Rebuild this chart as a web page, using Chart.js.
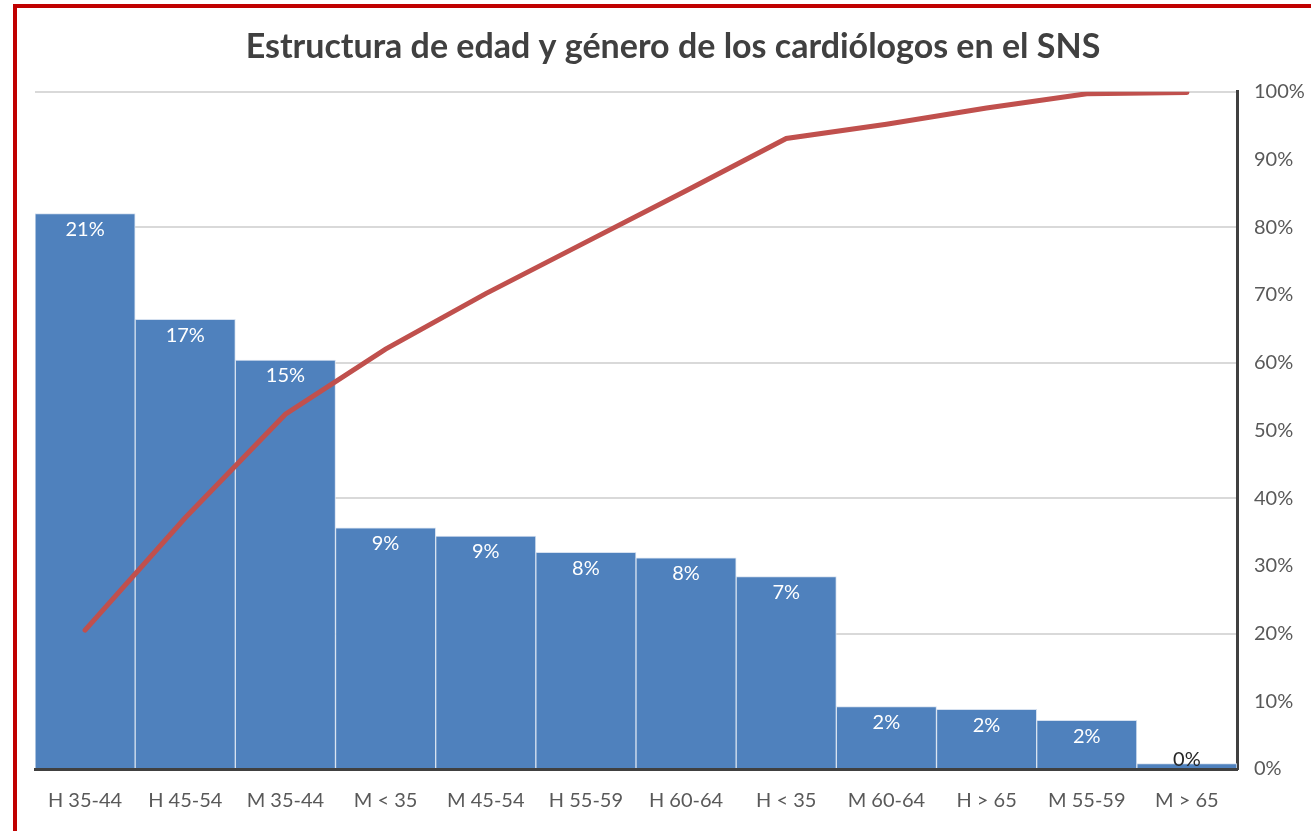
<!DOCTYPE html>
<html>
<head>
<meta charset="utf-8">
<script src="https://cdn.jsdelivr.net/npm/chart.js@4"></script>
<style>
  html, body { margin: 0; padding: 0; background: #fff; overflow: hidden; }
  #frame {
    position: absolute; left: 13px; top: 4px; width: 1310px; height: 823px;
    border-top: 4px solid #c00000; border-left: 4px solid #c00000;
    border-bottom: 2px solid #d4d4d4;
  }
  #wrap { position: absolute; left: 0; top: 0; width: 1311px; height: 831px; }
</style>
</head>
<body>
<div id="frame"></div>
<div id="wrap"><canvas id="myChart"></canvas></div>
<script>
const ctx = document.getElementById('myChart');

// categories, share of each group (%) and the cumulative curve (%)
const categories = ['H 35-44', 'H 45-54', 'M 35-44', 'M < 35', 'M 45-54', 'H 55-59',
                    'H 60-64', 'H < 35', 'M 60-64', 'H > 65', 'M 55-59', 'M > 65'];
const shares = [20.5, 16.6, 15.1, 8.9, 8.6, 8.0, 7.8, 7.1, 2.3, 2.2, 1.8, 0.2];
const cumulative = [20.5, 37.1, 52.4, 62.0, 70.2, 77.8, 85.4, 93.1, 95.2, 97.6, 99.7, 99.9];
const rightTicks = [0, 10, 20, 30, 40, 50, 60, 70, 80, 90, 100];

const FONT = 'Lato, "Open Sans", sans-serif';

// write the % label at the top of every bar
const barLabels = {
  id: 'barLabels',
  afterDatasetsDraw(chart) {
    const meta = chart.getDatasetMeta(1);
    const c = chart.ctx;
    c.save();
    c.font = '20px ' + FONT;
    c.textAlign = 'center';
    c.textBaseline = 'middle';
    meta.data.forEach((bar, i) => {
      const txt = Math.round(shares[i]) + '%';
      if (bar.base - bar.y < 30) {
        c.fillStyle = '#262626';
        c.fillText(txt, bar.x, bar.y - 4);
      } else {
        c.fillStyle = '#ffffff';
        c.fillText(txt, bar.x, bar.y + 16);
      }
    });
    c.restore();
  }
};

const myChart = new Chart(ctx, {
  type: 'bar',
  data: {
    labels: categories,
    datasets: [{
      type: 'line',
      label: 'Acumulado',
      data: cumulative,
      yAxisID: 'y1',
      borderColor: '#c0504d',
      borderWidth: 5,
      borderCapStyle: 'round',
      pointRadius: 0,
      tension: 0,
      order: 0
    }, {
      label: 'Porcentaje',
      data: shares,
      yAxisID: 'y',
      backgroundColor: '#4f81bd',
      borderColor: '#d6e1f0',
      borderWidth: 1,
      borderSkipped: 'bottom',
      categoryPercentage: 1,
      barPercentage: 1,
      order: 1
    }]
  },
  options: {
    responsive: true,
    maintainAspectRatio: false,
    animation: false,
    layout: { padding: { left: 35, right: 0, top: 0, bottom: 0 } },
    plugins: {
      legend: { display: false },
      tooltip: { enabled: false },
      title: {
        display: true,
        text: 'Estructura de edad y género de los cardiólogos en el SNS',
        color: '#404040',
        font: { family: FONT, size: 34, weight: 'bold' },
        padding: { top: 27, bottom: 24 }
      }
    },
    scales: {
      x: {
        grid: { display: false, drawTicks: false },
        border: { color: '#404040', width: 3 },
        ticks: { color: '#595959', font: { family: FONT, size: 20 }, padding: 20, maxRotation: 0 },
        afterFit(scale) { scale.height = 62; }
      },
      y: {
        position: 'left',
        min: 0, max: 25,
        ticks: { display: false, stepSize: 5 },
        grid: { color: '#d9d9d9', lineWidth: 2, drawTicks: false },
        border: { display: false },
        afterFit(scale) { scale.width = 0; }
      },
      y1: {
        position: 'right',
        min: 0, max: 100,
        afterBuildTicks(scale) { scale.ticks = rightTicks.map(v => ({ value: v })); },
        ticks: {
          color: '#595959',
          font: { family: FONT, size: 20 },
          padding: 17,
          callback: v => v + '%'
        },
        grid: { display: false, drawTicks: false },
        border: { color: '#404040', width: 3 },
        afterFit(scale) { scale.width = 74; }
      }
    }
  },
  plugins: [barLabels]
});
</script>
</body>
</html>
